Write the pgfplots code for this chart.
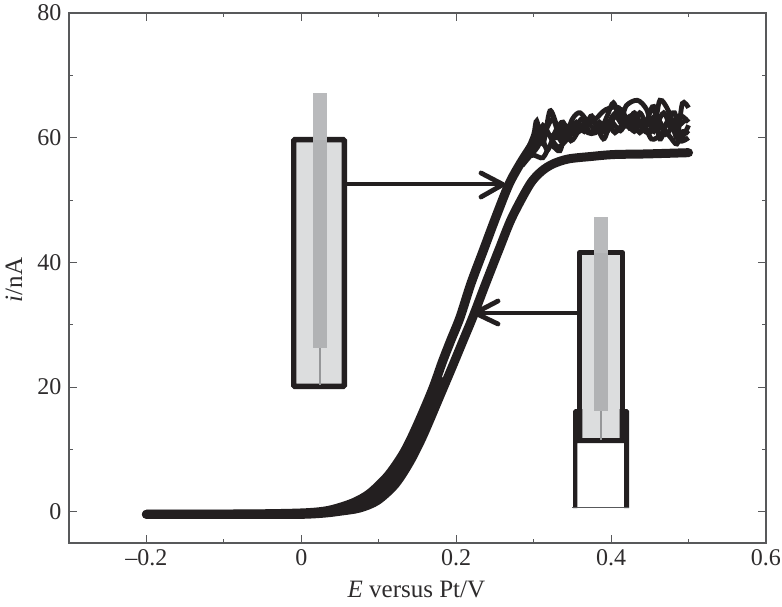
\documentclass[border=0pt]{standalone}
\usepackage{fontspec}
\setmainfont{Liberation Serif}
\usepackage{pgfplots}
\pgfplotsset{compat=1.18}
\definecolor{ink}{HTML}{231F20}
\definecolor{axisgray}{HTML}{58595B}
\definecolor{txt}{HTML}{2E2C2D}
\definecolor{glassfill}{HTML}{DCDDDE}
\definecolor{stick}{HTML}{B1B2B4}
\definecolor{sticktop}{HTML}{B9BABC}
\begin{document}
\begin{tikzpicture}[x=1pt,y=1pt]
\path[use as bounding box] (-69pt,-63pt) rectangle (713pt,543pt);
\begin{axis}[
  at={(0pt,0pt)},anchor=south west,
  scale only axis,width=697pt,height=530pt,
  xmin=-0.3,xmax=0.6,ymin=-5,ymax=80,
  xtick={-0.2,0,0.2,0.4,0.6},xticklabels={--0.2,0,0.2,0.4,0.6},
  ytick={0,20,40,60,80},yticklabels={0,20,40,60,80},
  minor xtick={-0.1,0.1,0.3,0.5},minor ytick={10,30,50,70},
  tick align=inside,
  major tick length=8pt,minor tick length=4pt,
  every tick/.style={axisgray,line width=1pt},
  axis line style={axisgray,line width=1.5pt},
  tick label style={txt,font=\fontsize{24}{26}\selectfont},
  xticklabel style={yshift=-3pt},
  yticklabel style={xshift=-4pt},
  xlabel={\textit{E} versus Pt/V},
  ylabel={\textit{i}/nA},
  label style={txt,font=\fontsize{25}{27}\selectfont},
  xlabel style={at={(axis description cs:0.4985,0)},anchor=north,yshift=-34pt},
  ylabel style={at={(axis description cs:0,0.496)},anchor=south,yshift=43pt},
  clip=false,
]
% cell 1: smooth curve
\addplot[ink,line width=9pt,smooth,line cap=round] coordinates {
(-0.2,-0.4)(-0.066,-0.4)(0,-0.4)(0.03,-0.2)(0.05,0.1)(0.075,0.6)(0.098,1.8)(0.121,4.4)(0.14,8)(0.157,12.2)(0.179,18.6)(0.196,23.6)(0.209,27.5)(0.222,31.4)(0.238,36.6)(0.256,42.3)(0.272,47.2)(0.295,52.5)(0.31,54.6)(0.325,55.8)(0.345,56.6)(0.375,57)(0.403,57.3)(0.446,57.4)(0.5,57.6)};
% repeated scans filling the foot of the wave
\addplot[ink,line width=8pt,smooth,line cap=round] coordinates {
(0.05,0.4)(0.075,1)(0.095,2.4)(0.117,5.1)(0.136,8.7)(0.152,12.8)(0.17,18)(0.18,21)};
% cell 2: left rising band
\addplot[ink,line width=9.2pt,smooth,line cap=round] coordinates {
(-0.2,-0.4)(-0.066,-0.35)(0,-0.2)(0.03,0.1)(0.05,0.7)(0.07,1.6)(0.089,3)(0.112,5.8)(0.132,9.4)(0.148,13.4)(0.169,19.5)(0.182,24)(0.193,27.5)(0.205,31.2)(0.219,36.6)(0.235,41.9)(0.251,47.2)(0.268,52.5)(0.283,55.9)(0.298,58.8)};
% cell 2: repeated noisy plateau traces
\addplot[ink,line width=4.8pt,smooth,tension=0.5] coordinates {
(0.28,55)(0.29,57.5)(0.30,60.5)(0.304,62.7)(0.312,59)(0.321,64.3)(0.33,62)(0.34,60)(0.35,63)(0.36,64)(0.373,62)(0.385,61)(0.395,63.5)(0.403,65.6)(0.412,63)(0.42,65.2)(0.434,66)(0.446,64.5)(0.455,61)(0.463,66)(0.476,63.8)(0.485,60)(0.492,65.5)(0.50,64.8)};
\addplot[ink,line width=4.8pt,smooth,tension=0.5] coordinates {
(0.285,55.5)(0.295,57)(0.305,58.5)(0.315,61)(0.325,63)(0.335,59.5)(0.345,61)(0.355,62.5)(0.365,61)(0.375,63.5)(0.39,59.8)(0.40,62.5)(0.412,61.1)(0.425,63.5)(0.437,60.8)(0.447,63)(0.455,65)(0.463,59.8)(0.472,62.5)(0.482,64)(0.49,60)(0.50,62)};
\addplot[ink,line width=4.8pt,smooth,tension=0.5] coordinates {
(0.29,56.8)(0.30,57.2)(0.312,56.8)(0.322,58.8)(0.334,57.9)(0.342,61.5)(0.351,60.8)(0.362,63)(0.373,60.8)(0.385,62.5)(0.395,61)(0.405,63.5)(0.415,62)(0.427,62)(0.437,64)(0.447,62)(0.457,63.5)(0.468,61.5)(0.477,60)(0.485,59)(0.493,61)(0.50,60.6)};
\addplot[ink,line width=4.8pt,smooth,tension=0.5] coordinates {
(0.285,56)(0.298,58.2)(0.308,61)(0.32,60.5)(0.33,60)(0.34,62)(0.355,60.8)(0.368,62)(0.38,63)(0.393,64.5)(0.41,64.8)(0.42,62)(0.43,64)(0.44,61.5)(0.45,60.8)(0.46,63)(0.47,60.5)(0.48,62)(0.49,63.5)(0.50,62.5)};
\addplot[ink,line width=4.8pt,smooth,tension=0.5] coordinates {
(0.29,57)(0.302,59.5)(0.312,62)(0.322,60)(0.332,58.5)(0.345,60)(0.358,62)(0.37,60.8)(0.38,60.8)(0.395,62.5)(0.405,60.8)(0.418,62.5)(0.43,61)(0.44,62.8)(0.452,59.8)(0.465,60.6)(0.475,62.5)(0.488,59.5)(0.50,60)};
\addplot[ink,line width=4.8pt,smooth,tension=0.5] coordinates {
(0.3,58)(0.31,60)(0.318,58)(0.328,61)(0.338,62.5)(0.348,59.5)(0.36,61.5)(0.372,63)(0.383,61.8)(0.392,61)(0.402,63.5)(0.414,64.5)(0.424,61.5)(0.436,62.5)(0.445,61)(0.458,62)(0.468,64)(0.478,61.5)(0.488,62)(0.497,63)};
\end{axis}
% cell schematics, in reference pixel positions
\begin{scope}[shift={(-69pt,543pt)},x=1pt,y=-1pt]
% left cell
\fill[glassfill] (293.7,139.7) rectangle (344.3,386.3);
\draw[ink,line width=5.4pt,rounded corners=1pt] (293.7,139.7) rectangle (344.3,386.3);
\fill[sticktop] (313,93) rectangle (327,140);
\fill[stick] (313,140) rectangle (327,348);
\draw[stick!85!black,line width=1.6pt] (320,348) -- (320,385);
\draw[ink,line width=4.6pt] (347,184) -- (501,184);
\draw[ink,line width=4.8pt,line cap=round,line join=round] (481,173) -- (503,184.5) -- (481,197);
% right cell
\fill[glassfill] (579.7,252.7) rectangle (622.3,440);
\draw[ink,line width=5.4pt,line join=round] (579.7,438) -- (579.7,252.7) -- (622.3,252.7) -- (622.3,438);
\fill[ink] (573,411) -- (575,409) -- (582.4,409) -- (582.4,438) -- (619.6,438) -- (619.6,409) -- (627,409) -- (629,411) -- (629,508) -- (624,508) -- (624,443) -- (577.3,443) -- (577.3,508) -- (573,508) -- cycle;
\draw[axisgray,line width=0.8pt] (572,507) -- (629,507);
\fill[sticktop] (594,217) rectangle (608,253);
\fill[stick] (594,253) rectangle (608,411);
\draw[stick!85!black,line width=1.6pt] (601,411) -- (601,440);
\draw[ink,line width=4.6pt] (577,313) -- (478,313);
\draw[ink,line width=4.8pt,line cap=round,line join=round] (498,301) -- (475,313) -- (498,324);
\end{scope}
\end{tikzpicture}
\end{document}
